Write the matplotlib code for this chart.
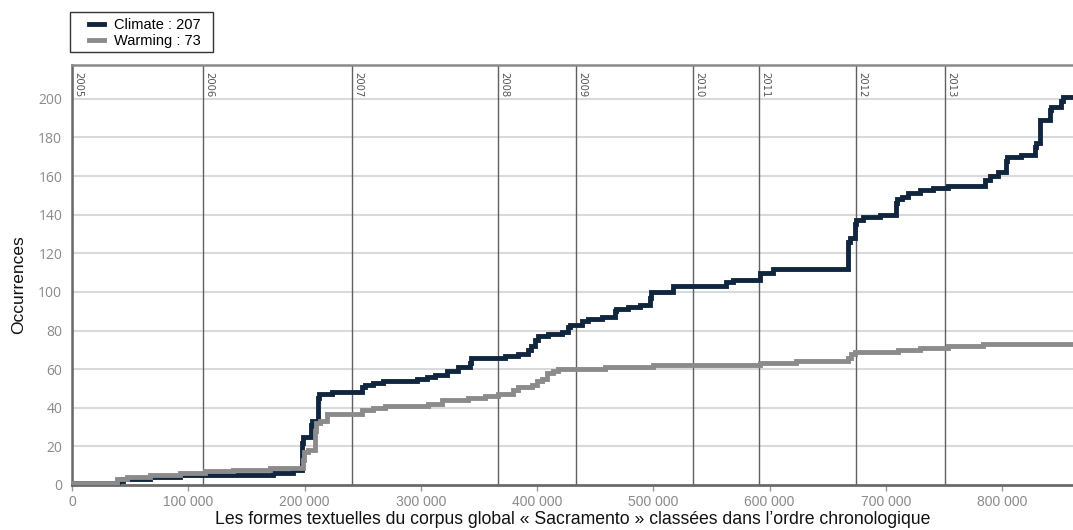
import matplotlib
matplotlib.use("Agg")
import matplotlib.pyplot as plt
from matplotlib.lines import Line2D
from matplotlib.patches import Rectangle
from matplotlib.ticker import FuncFormatter

# Cumulative occurrence counts: breakpoints (position in thousands of forms, count)
climate_x = [0, 2.6, 39.8, 44, 67, 93, 173, 190, 198.0, 199.0, 205.5, 206.5, 211.5, 212.2,
             223.3, 249.1, 252, 259.1, 267.7, 296.4, 305, 312.1, 322.2, 332.2, 342.2, 343.2,
             372.3, 383.8, 392.4, 395, 398, 401, 409.6, 421.1, 426.8, 428, 438.3, 444.0,
             455.5, 466.9, 467.5, 478.4, 488.4, 497.0, 498.2, 517.0, 562.9, 568.6, 591.6,
             603.0, 667.5, 669, 673.3, 674.5, 680.4, 694.8, 709.1, 709.8, 714, 719.1, 729.1,
             740.6, 753.5, 785.1, 789.3, 796.5, 803.7, 804.5, 816.6, 828.0, 829, 832.3, 833,
             840.9, 842, 851.0, 852, 861]
climate_y = [0, 1, 2, 3, 4, 5, 6, 8, 22, 25, 31, 33, 45, 47,
             48, 51, 52, 53, 54, 55, 56, 57, 59, 61, 63, 66,
             67, 68, 70, 72, 75, 77, 78, 79, 82, 83, 85, 86,
             87, 90, 91, 92, 93, 97, 100, 103, 105, 106, 110,
             112, 126, 128, 135, 137, 139, 140, 146, 148, 149, 151, 153,
             154, 155, 158, 160, 162, 168, 170, 171, 175, 177, 187, 189,
             194, 196, 199, 201, 201]

warming_x = [0, 1.1, 38.4, 47, 67.1, 92.9, 114.4, 138.7, 170.3, 198.5, 199.5, 203.2,
             208.9, 209.5, 213, 219.0, 249.1, 259.1, 269.1, 306.4, 317.9, 340.8, 355.1,
             366.6, 379.5, 383.8, 395.3, 399.6, 404, 408.2, 413.9, 418.2, 458.3, 499.8,
             591.6, 623.1, 667.5, 670.4, 673.3, 710.5, 729.1, 753.5, 783.6, 861]
warming_y = [0, 1, 3, 4, 5, 6, 7, 8, 9, 13, 17, 18,
             28, 32, 33, 37, 39, 40, 41, 42, 44, 45, 46,
             47, 49, 51, 52, 54, 55, 58, 59, 60, 61, 62,
             63, 64, 66, 68, 69, 70, 71, 72, 73, 73]

# Start of each year along the corpus (thousands of forms)
years = ["2005", "2006", "2007", "2008", "2009", "2010", "2011", "2012", "2013"]
year_x = [0, 112.6, 240.8, 366.3, 433.1, 534.0, 590.7, 674.5, 750.6]

series_labels = ["Climate : 207", "Warming : 73"]
x_ticks = [0, 100, 200, 300, 400, 500, 600, 700, 800]
y_ticks = [0, 20, 40, 60, 80, 100, 120, 140, 160, 180, 200]

CLIMATE = "#10263f"
WARMING = "#8b8b8b"
SANS = ["Liberation Sans", "DejaVu Sans"]

W, H = 1073, 530
fig = plt.figure(figsize=(W / 100, H / 100), dpi=100)
ax = fig.add_axes([72 / W, 1 - 485 / H, 1 - 72 / W, (485 - 65) / H])

k = 1000
ax.step([v * k for v in climate_x], climate_y, where="post", color=CLIMATE, lw=3.5,
        solid_joinstyle="miter", zorder=4)
ax.step([v * k for v in warming_x], warming_y, where="post", color=WARMING, lw=3.5,
        solid_joinstyle="miter", zorder=5)

ax.set_xlim(0, 861 * k)
ax.set_ylim(0, 217.5)

for yv in y_ticks[1:]:
    ax.axhline(yv, color="#dadada", lw=1.5, zorder=1)

for lab, xv in zip(years, year_x):
    ax.axvline(xv * k, color="#606060", lw=1.0, zorder=2)
    ax.text(xv * k + 1.2 * k, 214, lab, rotation=270, ha="left", va="top",
            fontsize=7.2, color="#555555", zorder=3)

ax.set_xticks([v * k for v in x_ticks])
ax.xaxis.set_major_formatter(FuncFormatter(lambda v, p: f"{int(round(v)):,}".replace(",", " ")))
ax.set_yticks(y_ticks)
ax.tick_params(axis="x", colors="#999999", length=4, width=1, labelsize=10, pad=3)
ax.tick_params(axis="y", colors="#999999", length=0, labelsize=10, pad=7)
for t in ax.get_xticklabels():
    t.set_family(SANS)
    t.set_color("#8a8a8a")
for t in ax.get_yticklabels():
    t.set_family(["Open Sans", "DejaVu Sans"])
    t.set_color("#8a8a8a")

ax.spines["right"].set_visible(False)
ax.spines["top"].set_color("#8a8a8a")
ax.spines["top"].set_linewidth(1.8)
ax.spines["left"].set_color("#6a6a6a")
ax.spines["left"].set_linewidth(1.8)
ax.spines["bottom"].set_color("#6a6a6a")
ax.spines["bottom"].set_linewidth(2.0)

ax.set_xlabel("Les formes textuelles du corpus global « Sacramento » classées dans l’ordre chronologique",
              family=SANS, fontsize=12.7, color="#111111", labelpad=2)
ax.set_ylabel("Occurrences", family=SANS, fontsize=12.5, color="#111111")
ax.yaxis.set_label_coords(-0.046, 0.476)

# Legend box drawn in figure pixels, entries placed inside it
fig.add_artist(Rectangle((70 / W, 1 - 52 / H), (213 - 70) / W, 40 / H,
                         transform=fig.transFigure, facecolor="white",
                         edgecolor="#333333", lw=1.0))
handles = [Line2D([0], [0], color=CLIMATE, lw=3.5), Line2D([0], [0], color=WARMING, lw=3.5)]
fig.legend(handles, series_labels, loc="upper left",
           bbox_to_anchor=(88 / W, 1 - 17 / H), borderaxespad=0, frameon=False,
           handlelength=1.0, handletextpad=0.7, borderpad=0.1,
           labelspacing=0.12, prop={"family": SANS, "size": 10.5})

fig.savefig("out.png", dpi=100)
